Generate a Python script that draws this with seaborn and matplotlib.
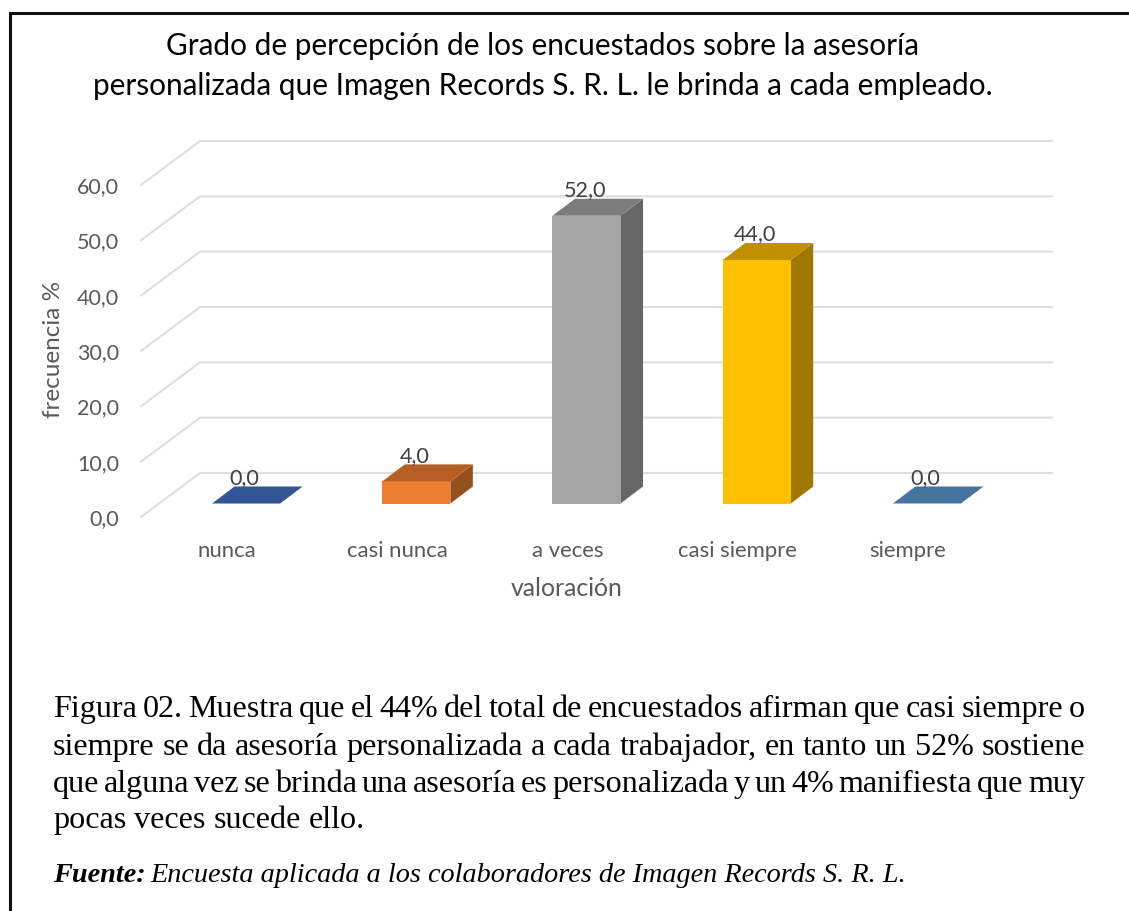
import matplotlib
matplotlib.use("Agg")
import matplotlib.pyplot as plt
from matplotlib.lines import Line2D
from matplotlib.patches import Polygon
from matplotlib.transforms import Affine2D
import pandas as pd
import seaborn as sns

categories = ["nunca", "casi nunca", "a veces", "casi siempre", "siempre"]
values = [0.0, 4.0, 52.0, 44.0, 0.0]
y_ticks = [0, 10, 20, 30, 40, 50, 60]
front_colors = ["#2F5597", "#ED7D31", "#A5A5A5", "#FFC000", "#44749F"]
top_colors = ["#335593", "#B55F25", "#7C7C7C", "#C09000", "#44749F"]
side_colors = ["#2F5597", "#95501E", "#666666", "#A07800", "#44749F"]

title_lines = [
    "Grado de percepción de los encuestados sobre la asesoría",
    "personalizada que Imagen Records S. R. L. le brinda a cada empleado.",
]
caption_lines = [
    "Figura 02. Muestra que el 44% del total de encuestados afirman que casi siempre o",
    "siempre se da asesoría personalizada a cada trabajador, en tanto un 52% sostiene",
    "que alguna vez se brinda una asesoría es personalizada y un 4% manifiesta que muy",
    "pocas veces sucede ello.",
]
source_bold = "Fuente:"
source_rest = "Encuesta aplicada a los colaboradores de Imagen Records S. R. L."

W, H = 1129, 911
sns.set_theme(style="white")
plt.rcParams["font.family"] = ["Lato", "DejaVu Sans"]

fig = plt.figure(figsize=(W / 100, H / 100), dpi=100, facecolor="white")
PX = Affine2D().scale(1, -1).translate(0, H)  # top-left pixel coordinates

L, R, T, B = 161, 1012, 171.5, 503.5
ax = fig.add_axes([L / W, 1 - B / H, (R - L) / W, (B - T) / H])
ax.patch.set_alpha(0)

df = pd.DataFrame({"valoracion": categories, "frecuencia": values})
sns.barplot(data=df, x="valoracion", y="frecuencia", hue="valoracion",
            palette=front_colors, width=0.4, dodge=False, legend=False,
            saturation=1, ax=ax, zorder=3, linewidth=0)
ax.set_xlim(-0.5, 4.5)
ax.set_ylim(0, 60)
sns.despine(ax=ax, left=True, bottom=True, top=True, right=True)

# 3-D depth, as pixel offsets of the front plane
DX, DY = 22.5, 17

# walls: gridlines folded from floor edge to back wall
for v in y_ticks:
    _, y0 = ax.transData.transform((0, v))
    xs = [L - 20, L + 39, R + 40]
    ys = [y0 - 13.5, y0 + 30.5, y0 + 30.5]
    fig.add_artist(Line2D(xs, ys, transform=None, color="#dedede", lw=1.5, zorder=0,
                          solid_joinstyle="miter"))

bars = sorted(ax.patches, key=lambda p: p.get_x())
for i, bar in enumerate(bars):
    x0, x1 = bar.get_x(), bar.get_x() + bar.get_width()
    h = bar.get_height()
    (px0, py0), (px1, py1) = ax.transData.transform([(x0, 0), (x1, h)])
    top = [(px0, py1), (px1, py1), (px1 + DX, py1 + DY), (px0 + DX, py1 + DY)]
    side = [(px1, py0), (px1 + DX, py0 + DY), (px1 + DX, py1 + DY), (px1, py1)]
    ax.add_patch(Polygon(side, closed=True, transform=None, fc=side_colors[i], ec="none",
                         zorder=2, clip_on=False))
    ax.add_patch(Polygon(top, closed=True, transform=None, fc=top_colors[i], ec="none",
                         zorder=4, clip_on=False))
    ax.annotate(f"{values[i]:.1f}".replace(".", ","), xy=(i, h), xytext=(-1.5, 25.5),
                textcoords="offset pixels", ha="center", va="center",
                fontsize=15.6, color="#404040", zorder=6, annotation_clip=False)

# ticks
ax.set_xticks(range(len(categories)))
ax.set_xticklabels(categories, fontsize=15.9, color="#595959")
ax.tick_params(axis="x", length=0, pad=27)
ax.set_yticks(y_ticks)
ax.set_yticklabels([f"{v:.1f}".replace(".", ",") for v in y_ticks], fontsize=15.5, color="#595959")
ax.tick_params(axis="y", length=0, pad=30)
for lab in ax.get_xticklabels():
    lab.set_transform(lab.get_transform() + Affine2D().translate(-19, 0))
for lab in ax.get_yticklabels():
    lab.set_transform(lab.get_transform() + Affine2D().translate(0, -13.5))

ax.set_xlabel("valoración", fontsize=17.8, color="#595959")
ax.xaxis.set_label_coords(567, 588, transform=PX)
ax.xaxis.label.set_verticalalignment("center")
ax.set_ylabel("frecuencia %", fontsize=17.5, color="#595959")
ax.yaxis.set_label_coords(53, 349, transform=PX)
ax.yaxis.label.set_verticalalignment("center")

# title
fig.text(543, 46, title_lines[0], transform=PX, ha="center", va="center", fontsize=21.4, color="black")
fig.text(543, 86, title_lines[1], transform=PX, ha="center", va="center", fontsize=21.4, color="black")

# frame
fig.add_artist(Line2D([10, 10, W], [H, 13, 13], transform=PX, color="#111111", lw=2.2,
                      solid_joinstyle="miter"))

# caption
renderer = fig.canvas.get_renderer()
SERIF = "Liberation Serif"


def justified(line, y, x0=53, x1=1085, size=23.1, justify=True):
    words = line.split(" ")
    arts = [fig.text(x0, y, w, transform=PX, family=SERIF, fontsize=size, color="black",
                     ha="left", va="baseline") for w in words]
    widths = [a.get_window_extent(renderer).width for a in arts]
    probe = fig.text(0, 0, "a a", family=SERIF, fontsize=size)
    probe2 = fig.text(0, 0, "aa", family=SERIF, fontsize=size)
    space = probe.get_window_extent(renderer).width - probe2.get_window_extent(renderer).width
    probe.remove()
    probe2.remove()
    if justify:
        space = (x1 - x0 - sum(widths)) / (len(words) - 1)
    x = x0
    for a, w in zip(arts, widths):
        a.set_x(x)
        x += w + space


baselines = [717, 755, 792, 828]
for k, (line, y) in enumerate(zip(caption_lines, baselines)):
    justified(line, y, justify=k < 3)

b = fig.text(53, 882, source_bold, transform=PX, family=SERIF, fontsize=20.3, weight="bold",
             style="italic", color="black", va="baseline")
bw = b.get_window_extent(renderer).width
fig.text(53 + bw + 5, 882, source_rest, transform=PX, family=SERIF, fontsize=20.3,
         style="italic", color="black", va="baseline")

fig.savefig("out.png", dpi=100, facecolor="white")
